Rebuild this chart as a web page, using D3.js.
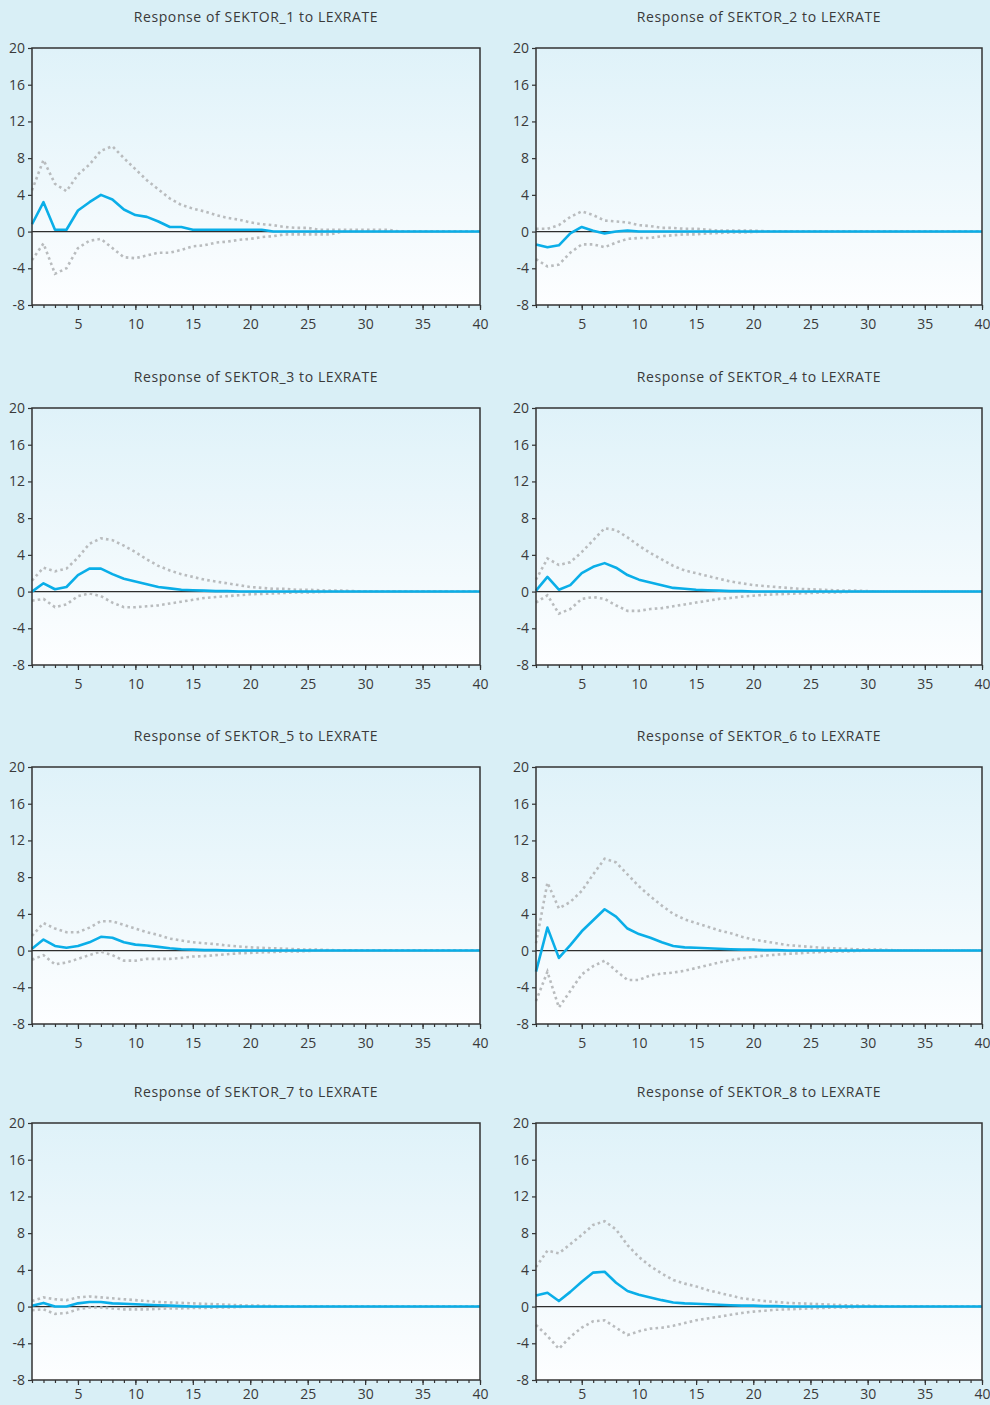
<!DOCTYPE html>
<html>
<head>
<meta charset="utf-8">
<script src="https://cdn.jsdelivr.net/npm/d3@7"></script>
<style>
  html, body { margin: 0; padding: 0; background: #d9eff6; }
  svg { display: block; }
  text { font-family: "Open Sans", "Liberation Sans", sans-serif; fill: #3a3a3a; }
</style>
</head>
<body>
<svg id="chart" width="990" height="1405"></svg>
<script>
// Impulse responses of each sector to a shock in LEXRATE, horizons 1..40,
// with the lower / upper confidence bands.
const horizons = d3.range(1, 41);
const yTicks = [-8, -4, 0, 4, 8, 12, 16, 20];
const xLabelTicks = [5, 10, 15, 20, 25, 30, 35, 40];
const sectorNames = ["SEKTOR_1", "SEKTOR_2", "SEKTOR_3", "SEKTOR_4",
                     "SEKTOR_5", "SEKTOR_6", "SEKTOR_7", "SEKTOR_8"];
const shockName = "LEXRATE";

const resp1 = [0.8,3.2,0.2,0.2,2.3,3.2,4.0,3.5,2.4,1.8,1.6,1.1,0.5,0.5,0.2,0.2,0.2,0.2,0.2,0.2,0.2,0,0,0,0,0,0,0,0,0,0,0,0,0,0,0,0,0,0,0];
const upper1 = [4.5,7.8,5.2,4.4,6.2,7.3,8.8,9.3,8.0,6.8,5.6,4.6,3.6,2.9,2.5,2.2,1.8,1.5,1.3,1.0,0.8,0.7,0.5,0.4,0.4,0.2,0.2,0.2,0.2,0.2,0.2,0.2,0,0,0,0,0,0,0,0];
const lower1 = [-3.1,-1.3,-4.6,-4.0,-1.8,-1.0,-0.8,-1.8,-2.8,-2.9,-2.6,-2.3,-2.3,-2.0,-1.6,-1.5,-1.2,-1.1,-0.9,-0.8,-0.6,-0.5,-0.3,-0.3,-0.3,-0.3,-0.3,0,0,0,0,0,0,0,0,0,0,0,0,0];

const resp2 = [-1.4,-1.7,-1.5,-0.2,0.5,0.1,-0.2,0,0.1,0,0,0,0,0,0,0,0,0,0,0,0,0,0,0,0,0,0,0,0,0,0,0,0,0,0,0,0,0,0,0];
const upper2 = [0.3,0.3,0.7,1.6,2.2,1.8,1.2,1.1,1.0,0.7,0.6,0.4,0.4,0.3,0.3,0.2,0.1,0.1,0.1,0.1,0.05,0,0,0,0,0,0,0,0,0,0,0,0,0,0,0,0,0,0,0];
const lower2 = [-3.0,-3.8,-3.6,-2.3,-1.4,-1.4,-1.7,-1.2,-0.8,-0.7,-0.7,-0.5,-0.4,-0.3,-0.3,-0.2,-0.15,-0.1,-0.1,-0.05,0,0,0,0,0,0,0,0,0,0,0,0,0,0,0,0,0,0,0,0];

const resp3 = [0,0.9,0.25,0.5,1.8,2.5,2.5,1.9,1.4,1.1,0.8,0.5,0.35,0.2,0.15,0.1,0.05,0.05,0,0,0,0,0,0,0,0,0,0,0,0,0,0,0,0,0,0,0,0,0,0];
const upper3 = [1.2,2.6,2.2,2.5,3.7,5.2,5.8,5.6,5.0,4.3,3.5,2.8,2.3,1.9,1.6,1.3,1.1,0.9,0.7,0.5,0.4,0.3,0.3,0.2,0.2,0.15,0.1,0.1,0.05,0,0,0,0,0,0,0,0,0,0,0];
const lower3 = [-1.0,-0.8,-1.7,-1.4,-0.5,-0.2,-0.5,-1.2,-1.7,-1.7,-1.6,-1.5,-1.3,-1.1,-0.9,-0.7,-0.6,-0.5,-0.4,-0.3,-0.25,-0.2,-0.15,-0.1,-0.1,-0.05,0,0,0,0,0,0,0,0,0,0,0,0,0,0];

const resp4 = [0.1,1.6,0.2,0.7,2.0,2.7,3.1,2.6,1.8,1.3,1.0,0.7,0.4,0.3,0.2,0.15,0.1,0.05,0.05,0,0,0,0,0,0,0,0,0,0,0,0,0,0,0,0,0,0,0,0,0];
const upper4 = [1.3,3.6,2.9,3.2,4.3,5.6,6.9,6.7,5.9,5.0,4.2,3.5,2.8,2.3,2.0,1.7,1.4,1.1,0.9,0.7,0.6,0.5,0.4,0.3,0.25,0.2,0.15,0.1,0.1,0.05,0,0,0,0,0,0,0,0,0,0];
const lower4 = [-1.2,-0.4,-2.4,-1.9,-0.8,-0.6,-0.8,-1.5,-2.1,-2.1,-1.9,-1.8,-1.6,-1.4,-1.2,-1.0,-0.8,-0.7,-0.55,-0.45,-0.35,-0.3,-0.25,-0.2,-0.15,-0.1,-0.1,-0.05,0,0,0,0,0,0,0,0,0,0,0,0];

const resp5 = [0.2,1.2,0.5,0.3,0.5,0.9,1.5,1.4,0.9,0.65,0.55,0.4,0.25,0.15,0.1,0.05,0.05,0,0,0,0,0,0,0,0,0,0,0,0,0,0,0,0,0,0,0,0,0,0,0];
const upper5 = [1.6,3.0,2.4,2.0,2.0,2.5,3.2,3.2,2.8,2.4,2.0,1.7,1.3,1.1,0.9,0.8,0.7,0.55,0.45,0.35,0.3,0.25,0.2,0.15,0.1,0.1,0.05,0,0,0,0,0,0,0,0,0,0,0,0,0];
const lower5 = [-1.0,-0.5,-1.5,-1.3,-0.9,-0.5,-0.1,-0.5,-1.1,-1.1,-0.9,-0.9,-0.9,-0.8,-0.65,-0.6,-0.5,-0.4,-0.3,-0.25,-0.2,-0.15,-0.1,-0.1,-0.05,0,0,0,0,0,0,0,0,0,0,0,0,0,0,0];

const resp6 = [-2.3,2.5,-0.8,0.6,2.1,3.3,4.5,3.7,2.4,1.8,1.4,0.9,0.5,0.35,0.3,0.25,0.2,0.15,0.1,0.1,0.05,0.05,0,0,0,0,0,0,0,0,0,0,0,0,0,0,0,0,0,0];
const upper6 = [0.8,7.4,4.6,5.3,6.5,8.3,10.0,9.6,8.3,7.0,5.9,4.9,4.0,3.4,3.0,2.6,2.2,1.9,1.5,1.2,1.0,0.8,0.6,0.5,0.4,0.3,0.25,0.2,0.15,0.1,0.1,0.05,0,0,0,0,0,0,0,0];
const lower6 = [-5.5,-2.3,-6.2,-4.4,-2.6,-1.7,-1.1,-2.2,-3.2,-3.2,-2.7,-2.5,-2.4,-2.2,-1.9,-1.6,-1.3,-1.05,-0.85,-0.7,-0.55,-0.45,-0.35,-0.3,-0.2,-0.15,-0.1,-0.1,-0.05,0,0,0,0,0,0,0,0,0,0,0];

const resp7 = [0.1,0.4,0,0,0.35,0.5,0.5,0.35,0.3,0.25,0.2,0.15,0.1,0.05,0,0,0,0,0,0,0,0,0,0,0,0,0,0,0,0,0,0,0,0,0,0,0,0,0,0];
const upper7 = [0.6,1.0,0.8,0.7,1.0,1.1,1.0,0.9,0.8,0.7,0.6,0.5,0.45,0.4,0.35,0.3,0.25,0.2,0.15,0.1,0.1,0.05,0,0,0,0,0,0,0,0,0,0,0,0,0,0,0,0,0,0];
const lower7 = [-0.4,-0.3,-0.8,-0.7,-0.3,-0.1,-0.1,-0.2,-0.3,-0.3,-0.3,-0.25,-0.2,-0.2,-0.15,-0.15,-0.1,-0.1,-0.05,0,0,0,0,0,0,0,0,0,0,0,0,0,0,0,0,0,0,0,0,0];

const resp8 = [1.2,1.5,0.6,1.6,2.7,3.7,3.8,2.6,1.7,1.3,1.0,0.7,0.45,0.35,0.3,0.25,0.2,0.15,0.1,0.1,0.05,0.05,0,0,0,0,0,0,0,0,0,0,0,0,0,0,0,0,0,0];
const upper8 = [4.3,6.1,5.8,6.8,7.8,8.9,9.3,8.4,6.7,5.4,4.4,3.6,2.9,2.5,2.2,1.8,1.5,1.2,0.9,0.75,0.6,0.5,0.4,0.35,0.3,0.25,0.2,0.15,0.1,0.1,0.05,0,0,0,0,0,0,0,0,0];
const lower8 = [-2.0,-3.2,-4.6,-3.3,-2.3,-1.6,-1.5,-2.3,-3.1,-2.7,-2.4,-2.3,-2.1,-1.8,-1.5,-1.3,-1.1,-0.9,-0.7,-0.55,-0.45,-0.35,-0.3,-0.25,-0.2,-0.15,-0.1,-0.1,-0.05,0,0,0,0,0,0,0,0,0,0,0];

const responses = [resp1, resp2, resp3, resp4, resp5, resp6, resp7, resp8];
const uppers = [upper1, upper2, upper3, upper4, upper5, upper6, upper7, upper8];
const lowers = [lower1, lower2, lower3, lower4, lower5, lower6, lower7, lower8];

// Panel grid geometry
const colLeft = [32, 536];
const colRight = [480, 982];
const rowTop = [48, 408, 767, 1123];
const plotH = 257;
// the last row sits close to the page bottom, so its labels hug the axis
const xLabelPad = [9, 9, 9, 4];

const svg = d3.select("#chart");
const defs = svg.append("defs");
const grad = defs.append("linearGradient")
  .attr("id", "plotBg").attr("x1", 0).attr("y1", 0).attr("x2", 0).attr("y2", 1);
grad.append("stop").attr("offset", "0%").attr("stop-color", "#dff2f9");
grad.append("stop").attr("offset", "100%").attr("stop-color", "#fdfeff");

// plain hyphen for negative tick labels
const tickLabel = d => String(d);

sectorNames.forEach((name, i) => {
  const col = i % 2, row = Math.floor(i / 2);
  const x0 = colLeft[col], x1 = colRight[col];
  const y0 = rowTop[row], y1 = y0 + plotH;

  const x = d3.scaleLinear().domain([1, 40]).range([x0, x1]);
  const y = d3.scaleLinear().domain([-8, 20]).range([y1, y0]);

  const g = svg.append("g");

  g.append("rect")
    .attr("x", x0).attr("y", y0)
    .attr("width", x1 - x0).attr("height", y1 - y0)
    .attr("fill", "url(#plotBg)");

  g.append("text")
    .attr("x", (x0 + x1) / 2).attr("y", y0 - 26)
    .attr("text-anchor", "middle")
    .attr("font-size", 14)
    .attr("letter-spacing", "0.6px")
    .text(`Response of ${name} to ${shockName}`);

  // zero reference line
  g.append("line")
    .attr("x1", x0).attr("x2", x1)
    .attr("y1", y(0)).attr("y2", y(0))
    .attr("stroke", "#2e2e2e").attr("stroke-width", 1.2);

  const line = d3.line().x((d, k) => x(horizons[k])).y(d => y(d));

  [uppers[i], lowers[i]].forEach(band => {
    g.append("path")
      .datum(band)
      .attr("d", line)
      .attr("fill", "none")
      .attr("stroke", "#b9bcbe")
      .attr("stroke-width", 2.6)
      .attr("stroke-dasharray", "2.6,3.2");
  });

  g.append("path")
    .datum(responses[i])
    .attr("d", line)
    .attr("fill", "none")
    .attr("stroke", "#0aaee8")
    .attr("stroke-width", 2.6)
    .attr("stroke-linejoin", "round");

  // frame
  g.append("rect")
    .attr("x", x0).attr("y", y0)
    .attr("width", x1 - x0).attr("height", y1 - y0)
    .attr("fill", "none")
    .attr("stroke", "#333").attr("stroke-width", 1.5);

  // y axis
  const yAxis = g.append("g")
    .attr("transform", `translate(${x0},0)`)
    .call(d3.axisLeft(y).tickValues(yTicks).tickSize(4).tickPadding(3).tickFormat(tickLabel));
  yAxis.select(".domain").remove();
  yAxis.selectAll(".tick line").attr("stroke", "#333").attr("stroke-width", 1.2);
  yAxis.selectAll(".tick text").attr("font-size", 14).attr("fill", "#3a3a3a")
    .style("font-family", '"Open Sans", sans-serif');

  // x axis: minor ticks every horizon, labelled ticks every five
  const xMinor = g.append("g")
    .attr("transform", `translate(0,${y1})`)
    .call(d3.axisBottom(x).tickValues(horizons).tickSize(3).tickFormat(""));
  xMinor.select(".domain").remove();
  xMinor.selectAll(".tick line").attr("stroke", "#333").attr("stroke-width", 1.2);

  const xMajor = g.append("g")
    .attr("transform", `translate(0,${y1})`)
    .call(d3.axisBottom(x).tickValues(xLabelTicks).tickSize(5).tickPadding(xLabelPad[row]).tickFormat(tickLabel));
  xMajor.select(".domain").remove();
  xMajor.selectAll(".tick line").attr("stroke", "#333").attr("stroke-width", 1.2);
  xMajor.selectAll(".tick text").attr("font-size", 14).attr("fill", "#3a3a3a")
    .style("font-family", '"Open Sans", sans-serif');
});
</script>
</body>
</html>
